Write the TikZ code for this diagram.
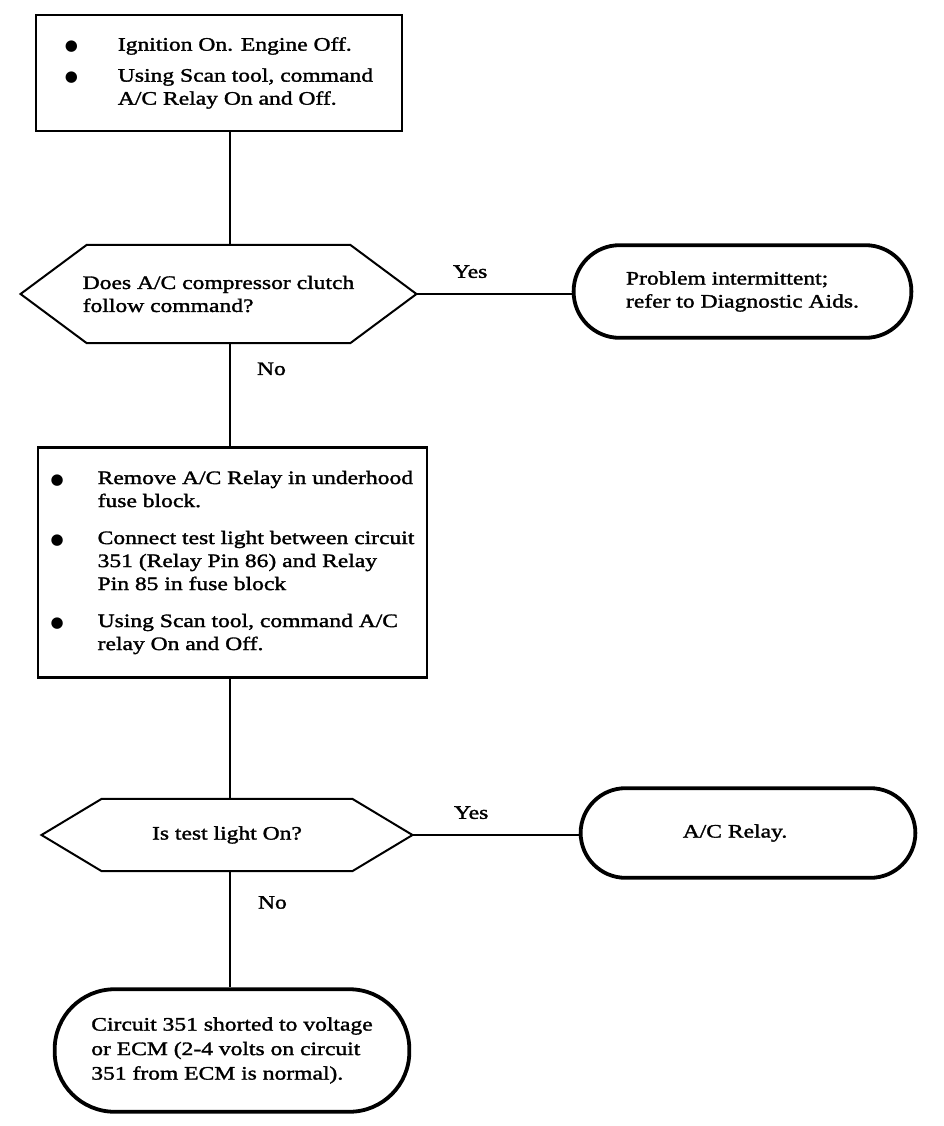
\documentclass[tikz,border=0pt]{standalone}
\usepackage{fontspec}
\setmainfont{Liberation Serif}[FakeStretch=1.24,FakeBold=1.6]
\newfontfamily\symfont{DejaVu Sans}
\usetikzlibrary{calc}
\newcommand{\bl}[1]{\makebox[#1][l]{\symfont\fontsize{15bp}{15bp}\selectfont ●}}
\begin{document}
\begin{tikzpicture}[x=1bp,y=-1bp, font=\fontsize{19bp}{23bp}\selectfont,
  box/.style={draw, line width=2.2bp, align=left, inner sep=0pt},
  term/.style={draw, line width=3.8bp, align=left, inner sep=0pt},
  hexa/.style={align=left, inner sep=0pt},
  hexline/.style={line width=2bp},
  conn/.style={line width=2bp},
  lab/.style={inner sep=0pt}]
\fill[white] (0,0) rectangle (944,1126);
\useasboundingbox (0,0) rectangle (944,1126);
\coordinate (vx) at (230,0);

% box 1
\node[box, minimum width=368, minimum height=116] (b1) at (219,73) {%
\bl{53bp}Ignition On. Engine Off.\\[8bp]
\bl{53bp}Using Scan tool, command\\
\hspace*{53bp}A/C Relay On and Off.};

% decision 1
\node[hexa, minimum width=397, minimum height=98] (h1) at (218.5,294) {Does A/C compressor clutch\\follow command?\hspace*{0bp}};
\draw[hexline] (h1.west) -- ($(h1.north west)+(66,0)$) -- ($(h1.north east)+(-66,0)$) -- (h1.east)
  -- ($(h1.south east)+(-66,0)$) -- ($(h1.south west)+(66,0)$) -- cycle;

% terminal 1
\node[term, rounded corners=46bp, minimum width=339, minimum height=93] (t1) at (742.5,291.5)
  {Problem intermittent;\\refer to Diagnostic Aids.};

% box 2
\node[box, minimum width=391, minimum height=231] (b2) at (232.5,562.5) {%
\bl{47bp}Remove A/C Relay in underhood\\
\hspace*{47bp}fuse block.\\[14bp]
\bl{47bp}Connect test light between circuit\\
\hspace*{47bp}351 (Relay Pin 86) and Relay\\
\hspace*{47bp}Pin 85 in fuse block\\[14bp]
\bl{47bp}Using Scan tool, command A/C\\
\hspace*{47bp}relay On and Off.};

% decision 2
\node[hexa, minimum width=372, minimum height=72] (h2) at (227,835) {Is test light On?};
\draw[hexline] (h2.west) -- ($(h2.north west)+(60,0)$) -- ($(h2.north east)+(-60,0)$) -- (h2.east)
  -- ($(h2.south east)+(-60,0)$) -- ($(h2.south west)+(60,0)$) -- cycle;

% terminal 2
\node[term, rounded corners=45bp, minimum width=336, minimum height=90] (t2) at (748,833)
  {A/C Relay.\hspace*{26bp}};

% terminal 3
\node[term, rounded corners=60bp, minimum width=356, minimum height=123] (t3) at (232,1050.5) {%
Circuit 351 shorted to voltage\\[1.5bp]
or ECM (2-4 volts on circuit\\[1.5bp]
351 from ECM is normal).};

% connectors
\draw[conn] (b1.south -| vx) -- (h1.north -| vx);
\draw[conn] (h1.east) -- node[lab, pos=0.346, anchor=south, yshift=15bp] {Yes} (h1.east -| t1.west);
\draw[conn] (h1.south -| vx) -- node[lab, pos=0.25, anchor=west, xshift=26bp] {No} (b2.north -| vx);
\draw[conn] (b2.south -| vx) -- (h2.north -| vx);
\draw[conn] (h2.east) -- node[lab, pos=0.353, anchor=south, yshift=15bp] {Yes} (h2.east -| t2.west);
\draw[conn] (h2.south -| vx) -- node[lab, pos=0.27, anchor=west, xshift=27bp] {No} (t3.north -| vx);
\end{tikzpicture}
\end{document}
